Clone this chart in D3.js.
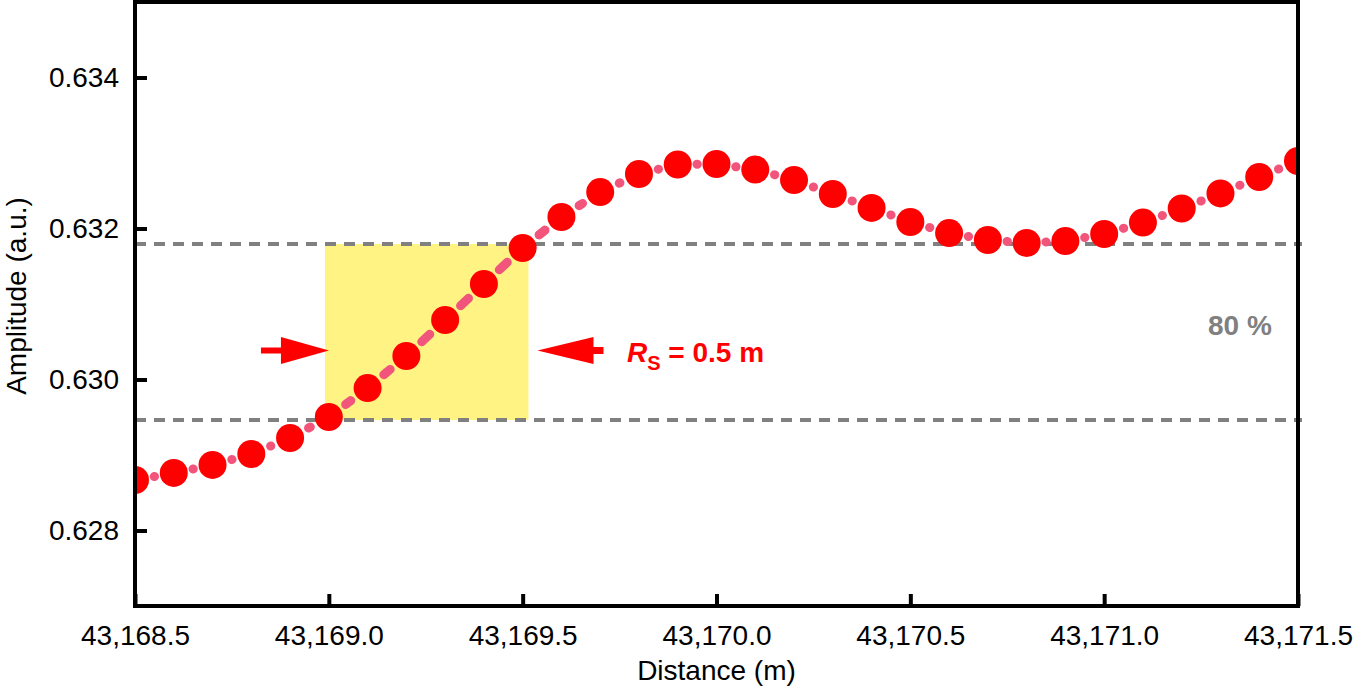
<!DOCTYPE html>
<html>
<head>
<meta charset="utf-8">
<script src="https://cdn.jsdelivr.net/npm/d3@7"></script>
<style>
  html, body { margin: 0; padding: 0; background: #ffffff; }
  svg { display: block; }
  text { font-family: "Liberation Sans", Arial, Helvetica, sans-serif; }
</style>
</head>
<body>
<svg id="chart" width="1353" height="693"></svg>
<script>
// ---- data ----
const distances = [
  43168.5, 43168.6, 43168.7, 43168.8, 43168.9, 43169.0, 43169.1, 43169.2, 43169.3, 43169.4,
  43169.5, 43169.6, 43169.7, 43169.8, 43169.9, 43170.0, 43170.1, 43170.2, 43170.3, 43170.4,
  43170.5, 43170.6, 43170.7, 43170.8, 43170.9, 43171.0, 43171.1, 43171.2, 43171.3, 43171.4,
  43171.5
];
const amplitudes = [
  0.628669, 0.628762, 0.628868, 0.629013, 0.629225, 0.629503, 0.629887, 0.630311, 0.630788, 0.631265,
  0.631742, 0.632152, 0.632483, 0.632722, 0.632848, 0.632854, 0.632781, 0.632642, 0.632457, 0.632272,
  0.632086, 0.631940, 0.631848, 0.631808, 0.631834, 0.631927, 0.632079, 0.632265, 0.632464, 0.632682,
  0.632894
];
const xDomain = [43168.5, 43171.5];
const yDomain = [0.627, 0.635];
const xTickValues = [43168.5, 43169.0, 43169.5, 43170.0, 43170.5, 43171.0, 43171.5];
const yTickValues = [0.628, 0.630, 0.632, 0.634];
const thresholds = [0.631795, 0.629464];          // 80 % band limits
const resolutionSpan = [43168.99, 43169.515];      // R_S window
const arrowLevel = 0.630384;
const labels = { x: "Distance (m)", y: "Amplitude (a.u.)", pct: "80 %" };

// ---- layout ----
const svg = d3.select("#chart");
const x = d3.scaleLinear().domain(xDomain).range([135, 1298]);
const y = d3.scaleLinear().domain(yDomain).range([606, 2]);
const X0 = x.range()[0], X1 = x.range()[1];
const Y0 = y.range()[1], Y1 = y.range()[0];

svg.append("defs").append("clipPath").attr("id", "plotclip")
  .append("rect").attr("x", X0).attr("y", Y0).attr("width", X1 - X0).attr("height", Y1 - Y0);

// yellow band
svg.append("rect")
  .attr("x", x(resolutionSpan[0]))
  .attr("y", y(thresholds[0]))
  .attr("width", x(resolutionSpan[1]) - x(resolutionSpan[0]))
  .attr("height", y(thresholds[1]) - y(thresholds[0]))
  .attr("fill", "#fff384");

// dashed threshold lines
svg.selectAll("line.thr").data(thresholds).enter().append("line")
  .attr("class", "thr")
  .attr("x1", X0).attr("x2", X1 + 4)
  .attr("y1", d => y(d)).attr("y2", d => y(d))
  .attr("stroke", "#808080").attr("stroke-width", 4)
  .attr("stroke-dasharray", "11 8");

const pts = distances.map((d, i) => ({ px: x(d), py: y(amplitudes[i]) }));
const plot = svg.append("g").attr("clip-path", "url(#plotclip)");

// connecting dashed line: one dash centred between neighbouring markers
const R = 14;
const segs = d3.pairs(pts).map(([a, b]) => {
  const dx = b.px - a.px, dy = b.py - a.py;
  const L = Math.hypot(dx, dy);
  const ux = dx / L, uy = dy / L;
  const dl = Math.max(0.3, (L - 2 * R) - 14);
  const mx = (a.px + b.px) / 2, my = (a.py + b.py) / 2;
  return { x1: mx - ux * dl / 2, y1: my - uy * dl / 2, x2: mx + ux * dl / 2, y2: my + uy * dl / 2 };
});
plot.selectAll("line.seg").data(segs).enter().append("line")
  .attr("class", "seg")
  .attr("x1", d => d.x1).attr("y1", d => d.y1)
  .attr("x2", d => d.x2).attr("y2", d => d.y2)
  .attr("stroke", "#f2557b").attr("stroke-width", 9).attr("stroke-linecap", "round");

// markers
plot.selectAll("circle").data(pts).enter().append("circle")
  .attr("cx", d => d.px).attr("cy", d => d.py).attr("r", R)
  .attr("fill", "#ff0000");

// frame
svg.append("rect")
  .attr("x", X0).attr("y", Y0).attr("width", X1 - X0).attr("height", Y1 - Y0)
  .attr("fill", "none").attr("stroke", "#000").attr("stroke-width", 4);

// axes
const xAxis = d3.axisBottom(x).tickValues(xTickValues).tickSize(-12).tickPadding(19)
  .tickFormat(d3.format(",.1f"));
const gx = svg.append("g").attr("transform", `translate(0,${Y1})`).call(xAxis);
gx.select(".domain").remove();
gx.selectAll(".tick line").attr("stroke", "#000").attr("stroke-width", 4);
gx.selectAll(".tick text").attr("fill", "#000").style("font-size", "28px")
  .style("font-family", "'Liberation Sans', Arial, sans-serif");

const yAxis = d3.axisLeft(y).tickValues(yTickValues).tickSize(-12).tickPadding(16)
  .tickFormat(d3.format(".3f"));
const gy = svg.append("g").attr("transform", `translate(${X0},0)`).call(yAxis);
gy.select(".domain").remove();
gy.selectAll(".tick line").attr("stroke", "#000").attr("stroke-width", 4);
gy.selectAll(".tick text").attr("fill", "#000").style("font-size", "28px")
  .style("font-family", "'Liberation Sans', Arial, sans-serif");

// axis titles
svg.append("text")
  .attr("x", (X0 + X1) / 2).attr("y", 680)
  .attr("text-anchor", "middle").style("font-size", "28px").attr("fill", "#000")
  .text(labels.x);
svg.append("text")
  .attr("transform", `translate(26,${(Y0 + Y1) / 2 - 8}) rotate(-90)`)
  .attr("text-anchor", "middle").style("font-size", "28px").attr("fill", "#000")
  .text(labels.y);

// arrows
const ay = y(arrowLevel);
const lx = x(resolutionSpan[0]);
const rx = x(resolutionSpan[1]);
// left arrow (pointing right)
svg.append("rect").attr("x", lx - 64).attr("y", ay - 3).attr("width", 24).attr("height", 6).attr("fill", "#ff0000");
svg.append("path")
  .attr("d", `M${lx - 44},${ay - 13.5} L${lx + 4},${ay} L${lx - 44},${ay + 13.5} Z`)
  .attr("fill", "#ff0000");
// right arrow (pointing left)
svg.append("rect").attr("x", rx + 60).attr("y", ay - 3.5).attr("width", 15).attr("height", 7).attr("fill", "#ff0000");
svg.append("path")
  .attr("d", `M${rx + 65},${ay - 13.5} L${rx + 9},${ay} L${rx + 65},${ay + 13.5} Z`)
  .attr("fill", "#ff0000");

// R_S label
const rs = svg.append("text")
  .attr("x", 627).attr("y", 362)
  .attr("fill", "#ff0000").style("font-size", "28px").style("font-weight", "bold");
rs.append("tspan").style("font-style", "italic").text("R");
rs.append("tspan").attr("dy", 8).style("font-size", "20px").text("S");
rs.append("tspan").attr("dy", -8).text(" = 0.5 m");

// 80 % label
svg.append("text")
  .attr("x", 1208).attr("y", 335)
  .attr("fill", "#808080").style("font-size", "28px").style("font-weight", "bold")
  .text(labels.pct);
</script>
</body>
</html>
